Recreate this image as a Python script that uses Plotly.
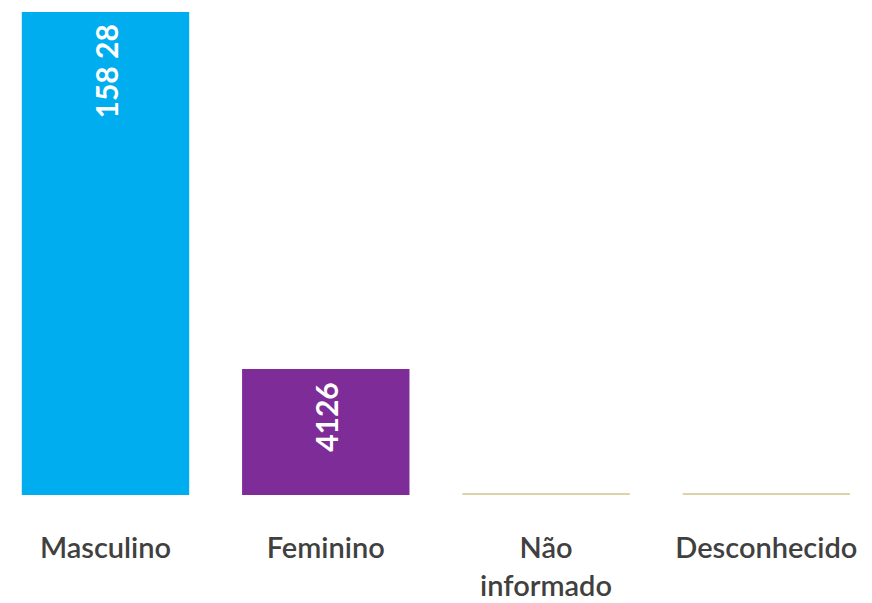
import plotly.graph_objects as go

categories = ["Masculino", "Feminino", "Não<br>informado", "Desconhecido"]
values = [15828, 4126, 50, 50]
value_labels = ["158 28", "4126", "", ""]
colors = ["#00AEEF", "#7E2D98", "#DDD3A8", "#DDD3A8"]

x_pos = list(range(len(categories)))

fig = go.Figure(go.Bar(
    x=x_pos,
    y=values,
    marker=dict(color=colors, line=dict(width=0)),
    width=0.76,
))

for xi, v, lab in zip(x_pos, values, value_labels):
    if lab:
        fig.add_annotation(
            x=xi, y=v, xref="x", yref="y",
            text=lab, showarrow=False, textangle=-90,
            yanchor="top", xanchor="center", yshift=-11,
            font=dict(family="Lato", size=30, color="white", weight="bold"),
        )

fig.update_layout(
    width=872, height=603,
    margin=dict(l=0, r=0, t=4, b=116),
    paper_bgcolor="white", plot_bgcolor="white",
    showlegend=False,
    xaxis=dict(
        range=[-0.4426, 3.516],
        tickmode="array",
        tickvals=x_pos,
        ticktext=categories,
        tickfont=dict(family="Lato", size=29, color="#404040", weight=600),
        showgrid=False, zeroline=False, showline=False,
        ticks="", ticklabelstandoff=33,
    ),
    yaxis=dict(range=[0, 15828], visible=False),
)

fig.write_html("out.html")
